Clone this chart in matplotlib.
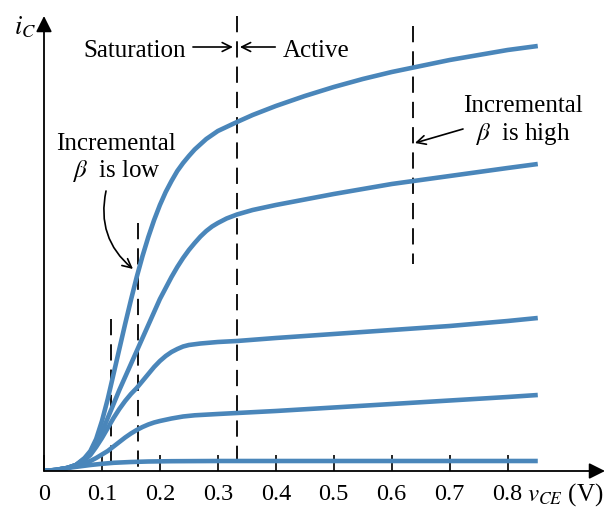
import matplotlib
matplotlib.use("Agg")
import matplotlib.pyplot as plt

plt.rcParams['font.family'] = ['Liberation Serif', 'DejaVu Serif']
plt.rcParams['mathtext.fontset'] = 'stix'

# curves (v_CE in V, i_C in arbitrary units)
v1 = [0, 0.02, 0.04, 0.055, 0.07, 0.08, 0.09, 0.10, 0.11, 0.12, 0.13, 0.14, 0.15, 0.16,
      0.17, 0.18, 0.19, 0.20, 0.21, 0.22, 0.23, 0.24, 0.25, 0.26, 0.28, 0.30, 0.333,
      0.36, 0.40, 0.45, 0.50, 0.55, 0.60, 0.65, 0.70, 0.75, 0.80, 0.852]
i1 = [0, 0.01, 0.03, 0.06, 0.13, 0.20, 0.32, 0.50, 0.72, 0.97, 1.22, 1.47, 1.71, 1.94,
      2.15, 2.34, 2.51, 2.66, 2.79, 2.90, 3.00, 3.08, 3.15, 3.215, 3.32, 3.40, 3.49,
      3.56, 3.65, 3.75, 3.84, 3.92, 3.99, 4.05, 4.11, 4.16, 4.21, 4.25]

v2 = [0, 0.02, 0.04, 0.055, 0.07, 0.08, 0.09, 0.10, 0.11, 0.12, 0.13, 0.14, 0.15, 0.16,
      0.17, 0.18, 0.19, 0.20, 0.21, 0.22, 0.23, 0.24, 0.25, 0.26, 0.27, 0.28, 0.29,
      0.30, 0.315, 0.333, 0.36, 0.40, 0.45, 0.50, 0.55, 0.60, 0.65, 0.70, 0.75, 0.80, 0.852]
i2 = [0, 0.01, 0.03, 0.06, 0.12, 0.18, 0.27, 0.39, 0.53, 0.67, 0.81, 0.94, 1.07, 1.20,
      1.33, 1.46, 1.59, 1.72, 1.83, 1.94, 2.04, 2.13, 2.21, 2.28, 2.345, 2.40, 2.445,
      2.48, 2.525, 2.565, 2.61, 2.66, 2.715, 2.77, 2.82, 2.87, 2.91, 2.95, 2.99, 3.03, 3.07]

v3 = [0, 0.02, 0.04, 0.055, 0.07, 0.08, 0.09, 0.10, 0.11, 0.12, 0.13, 0.14, 0.15, 0.16,
      0.17, 0.18, 0.19, 0.20, 0.21, 0.22, 0.23, 0.24, 0.25, 0.27, 0.30, 0.333, 0.40,
      0.50, 0.60, 0.70, 0.80, 0.852]
i3 = [0, 0.01, 0.03, 0.06, 0.11, 0.16, 0.24, 0.33, 0.43, 0.53, 0.62, 0.70, 0.77, 0.83,
      0.90, 0.97, 1.04, 1.10, 1.15, 1.19, 1.22, 1.245, 1.26, 1.275, 1.29, 1.30, 1.33,
      1.37, 1.41, 1.45, 1.50, 1.53]

v4 = [0, 0.02, 0.04, 0.06, 0.08, 0.09, 0.10, 0.11, 0.12, 0.13, 0.14, 0.15, 0.16, 0.17,
      0.18, 0.19, 0.20, 0.22, 0.24, 0.26, 0.30, 0.333, 0.40, 0.50, 0.60, 0.70, 0.80, 0.852]
i4 = [0, 0.01, 0.03, 0.06, 0.10, 0.13, 0.165, 0.20, 0.245, 0.29, 0.335, 0.375, 0.41, 0.44,
      0.465, 0.485, 0.50, 0.525, 0.545, 0.557, 0.57, 0.58, 0.60, 0.635, 0.67, 0.705, 0.74, 0.76]

v5 = [0, 0.02, 0.04, 0.06, 0.08, 0.10, 0.12, 0.15, 0.18, 0.22, 0.30, 0.50, 0.852]
i5 = [0, 0.012, 0.03, 0.045, 0.06, 0.072, 0.082, 0.09, 0.095, 0.098, 0.10, 0.10, 0.10]

curves = [(v1, i1), (v2, i2), (v3, i3), (v4, i4), (v5, i5)]

# dashed markers: x position, bottom, top
dash_x = [0.333, 0.115, 0.163, 0.636]
dash_lo = [0, 0, 0, 2.07]
dash_hi = [4.55, 1.52, 2.48, 4.45]

ticks = [0, 0.1, 0.2, 0.3, 0.4, 0.5, 0.6, 0.7, 0.8]
tick_labels = ["0", "0.1", "0.2", "0.3", "0.4", "0.5", "0.6", "0.7", "0.8"]

blue = '#4A86BA'
fs = 18

fig = plt.figure(figsize=(6.07, 5.10), dpi=100)
ax = fig.add_axes([44 / 607, 38 / 510, 561 / 607, 455 / 510])
ax.set_xlim(0, 0.968)
ax.set_ylim(0, 4.55)

for v, i in curves:
    ax.plot(v, i, color=blue, lw=3.3, solid_capstyle='butt', solid_joinstyle='round', zorder=3)

# draw top-down so each dashed line starts with a dash at its upper end
for x, lo, hi in zip(dash_x, dash_lo, dash_hi):
    ax.plot([x, x], [hi, lo], color='black', lw=1.3, dashes=(9, 5), zorder=2)

for s in ax.spines.values():
    s.set_visible(False)

# axes with arrow heads
ax.annotate('', xy=(0.968, 0), xytext=(0, 0), annotation_clip=False,
            arrowprops=dict(arrowstyle='-|>', color='black', lw=1.3, mutation_scale=24,
                            shrinkA=0, shrinkB=0))
ax.annotate('', xy=(0, 4.55), xytext=(0, 0), annotation_clip=False,
            arrowprops=dict(arrowstyle='-|>', color='black', lw=1.3, mutation_scale=24,
                            shrinkA=0, shrinkB=0))

ax.set_xticks(ticks)
ax.set_xticklabels(tick_labels, fontsize=17.5)
ax.tick_params(axis='x', direction='in', length=11.5, width=1.2, pad=9)
ax.set_yticks([])

ax.text(-0.033, 4.45, r'$i_C$', fontsize=fs + 1, ha='center', va='center')
ax.text(0.833, -0.29, r'$v_{CE}$ (V)', fontsize=fs, ha='left', va='baseline', clip_on=False)

# saturation / active labels
ax.text(0.245, 4.15, 'Saturation', fontsize=fs, ha='right', va='baseline')
ax.text(0.412, 4.15, 'Active', fontsize=fs, ha='left', va='baseline')
arr = dict(arrowstyle='->', color='black', lw=1.2, mutation_scale=16, shrinkA=0, shrinkB=0)
ax.annotate('', xy=(0.326, 4.24), xytext=(0.257, 4.24), arrowprops=arr)
ax.annotate('', xy=(0.338, 4.24), xytext=(0.399, 4.24), arrowprops=arr)

# incremental beta notes
ax.text(0.124, 3.22, 'Incremental', fontsize=fs, ha='center', va='baseline')
ax.text(0.124, 2.95, r'$\beta$  is low', fontsize=fs, ha='center', va='baseline')
ax.annotate('', xy=(0.1535, 2.02), xytext=(0.107, 2.80),
            arrowprops=dict(arrowstyle='->', color='black', lw=1.2, mutation_scale=16,
                            shrinkA=0, shrinkB=0, connectionstyle='arc3,rad=0.3'))

ax.text(0.826, 3.60, 'Incremental', fontsize=fs, ha='center', va='baseline')
ax.text(0.826, 3.32, r'$\beta$  is high', fontsize=fs, ha='center', va='baseline')
ax.annotate('', xy=(0.640, 3.28), xytext=(0.723, 3.42), arrowprops=arr)

fig.savefig('out.png', dpi=100, facecolor='white')
